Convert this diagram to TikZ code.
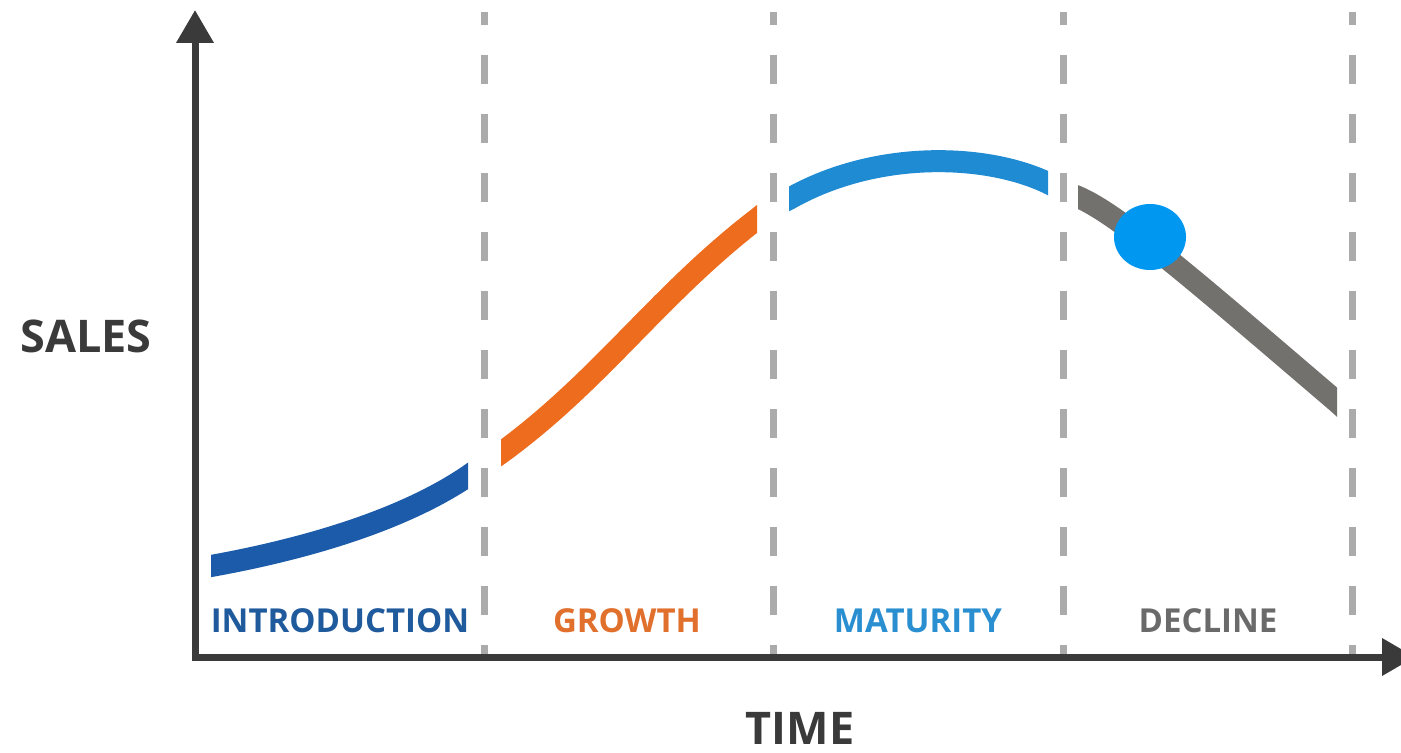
\documentclass[tikz,border=0pt]{standalone}
\usepackage{fontspec}
\setmainfont{Open Sans}
\usetikzlibrary{arrows.meta,shapes.geometric}
\definecolor{introC}{HTML}{1B5BAA}
\definecolor{introT}{HTML}{1F5A9C}
\definecolor{growC}{HTML}{EE6C1E}
\definecolor{growT}{HTML}{E0702C}
\definecolor{matC}{HTML}{1E8BD2}
\definecolor{matT}{HTML}{2A8FD0}
\definecolor{decC}{HTML}{72716E}
\definecolor{decT}{HTML}{6A6A6A}
\definecolor{dotC}{HTML}{0097F0}
\definecolor{axisC}{HTML}{3A3A3A}
\definecolor{dashC}{HTML}{ABABAB}
\tikzset{
  axisline/.style={draw=axisC, line width=3.5pt, line join=miter,
    {Triangle[length=16.5pt,width=18pt]}-{Triangle[length=16.5pt,width=18pt]}},
  divider/.style={draw=dashC, line width=3.5pt, dash pattern=on 14.5pt off 15pt, dash phase=8pt},
  band/.style={line width=11pt, line cap=butt},
  stagelabel/.style={anchor=base, inner sep=0pt, font=\fontsize{16.5}{18}\selectfont\bfseries},
  axislabel/.style={anchor=base, inner sep=0pt, text=axisC, font=\fontsize{22.5}{24}\selectfont\bfseries}
}
\begin{document}
\begin{tikzpicture}[x=0.5pt, y=-0.5pt]
\useasboundingbox (0,0) rectangle (1401,753);
\fill[white] (0,0) rectangle (1401,753);
% coordinates
\coordinate (O) at (195,657);
\coordinate (ytip) at (195,10);
\coordinate (xtip) at (1415,657);
\foreach \n/\x in {d1/484,d2/773,d3/1063,d4/1352}{
  \coordinate (\n top) at (\x,12);
  \coordinate (\n bot) at (\x,657);
}
% dividers
\foreach \n in {d1,d2,d3,d4}{ \draw[divider] (\n top) -- (\n bot); }
% introduction curve
\begin{scope}
  \clip (211,0) rectangle (468,753);
  \draw[band, introC] (201,568) -- (211,566) .. controls (300,550) and (400,522) .. (468,476) -- (478,469);
\end{scope}
% growth curve
\begin{scope}
  \clip (501,0) rectangle (757,753);
  \draw[band, growC] (491,460) -- (501,453) .. controls (601,380) and (657,296) .. (757,219) -- (767,211);
\end{scope}
% maturity curve
\begin{scope}
  \clip (789,0) rectangle (1048,753);
  \draw[band, matC] (779,204) -- (789,199) .. controls (875,150) and (985,153) .. (1048,183) -- (1058,188);
\end{scope}
% decline curve
\begin{scope}
  \clip (1078,0) rectangle (1337,753);
  \draw[band, decC] (1068,193) -- (1078,197) .. controls (1120,215) and (1200,285) .. (1337,402) -- (1347,411);
\end{scope}
% axes
\draw[axisline] (ytip) -- (O) -- (xtip);
% marker dot
\node[fill=dotC, ellipse, minimum width=36pt, minimum height=33pt, inner sep=0pt] (dot) at (1150,237) {};
% labels
\node[stagelabel, text=introT] (lintro) at (340,632) {INTRODUCTION};
\node[stagelabel, text=growT] (lgrow) at (627,632) {GROWTH};
\node[stagelabel, text=matT] (lmat) at (918,632) {MATURITY};
\node[stagelabel, text=decT] (ldec) at (1208,632) {DECLINE};
\node[axislabel] (lsales) at (86,352) {SALES};
\node[axislabel] (ltime) at (800,744) {TIME};
\end{tikzpicture}
\end{document}
